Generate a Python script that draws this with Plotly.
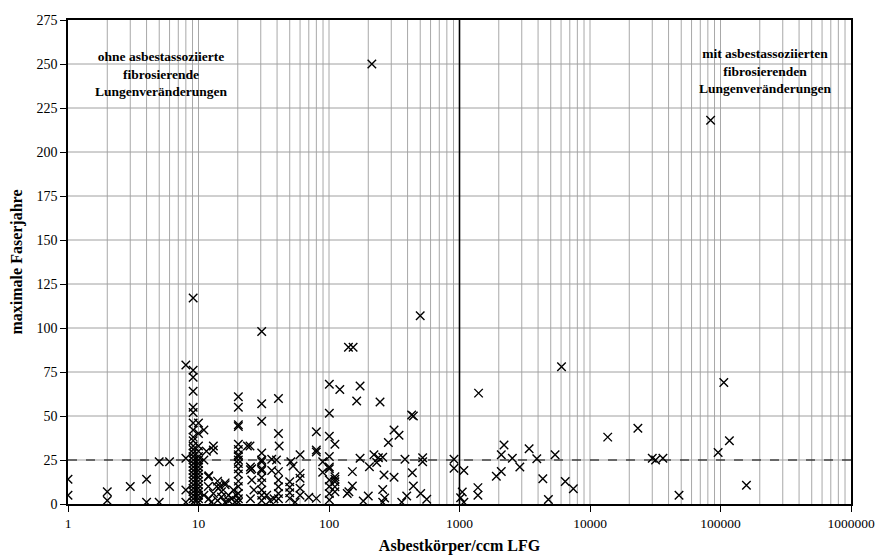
import plotly.graph_objects as go

# --- data ---
x_low = [1, 1, 2, 2, 3, 4, 4, 5, 5, 6, 6, 8, 8, 8, 8]
y_low = [14, 5, 7, 2, 10, 14, 1, 1, 24, 24, 10, 79, 26, 8, 1]

x_col9 = [9.1] * 27
y_col9 = [117, 76, 72, 64, 55, 52, 46, 42, 38, 36, 33, 31, 29, 27, 25, 23, 21,
          19, 17, 15, 13, 11, 9, 7, 5, 3, 1]

x_col10 = [10] * 18
y_col10 = [46, 40, 33, 30, 27, 25, 23, 21, 19, 17, 15, 13, 11, 9, 7, 5, 3, 1]

x_teens = [11, 11.5, 13, 13, 11, 12, 11.9, 14.6, 16, 11.9, 13.8, 16, 18.5, 11,
           12, 13, 14, 15, 16, 17, 18, 19, 12.5, 15, 17, 14, 19.5]
y_teens = [42, 30, 33, 30.7, 25, 16, 15.5, 10, 12, 10, 10, 11, 8, 5,
           3, 6, 2, 4, 1, 5, 3, 1, 1, 7, 2, 13, 5]

x_col20 = [20.2] * 17
y_col20 = [61, 55, 45, 44, 34, 31, 28, 27, 25, 23, 20, 17, 13, 10, 6, 3, 1]

x_col30 = [30.5] * 13
y_col30 = [98, 57, 47, 29, 25, 24, 20, 19, 15, 12, 8, 5, 2]

x_mid = [23.7, 24.8, 25.6, 25.6, 25, 25, 25, 26.6, 33.3, 35.3, 37.9, 41,
         36.4, 39.6, 36.4, 41, 41, 41, 41, 41, 41, 41.5,
         51, 53, 60, 60, 60, 60, 60, 50, 50, 50, 50, 70, 80, 80, 80, 80,
         89.5, 89.5, 55]
y_mid = [33, 33, 20, 13.6, 3, 21, 19.5, 8, 5, 2, 3, 3,
         25.4, 25, 19, 18.4, 13.6, 9.8, 6, 60, 40, 33,
         24, 21.6, 28, 17.4, 14.6, 9, 5, 12.7, 9.5, 6.4, 3.2, 3.8, 3.2, 41,
         30.7, 29.5, 24, 18, 1]

x_col100 = [100.6] * 10 + [111] * 6
y_col100 = [68, 51.5, 38.5, 27, 21, 20, 13.6, 10, 6, 2.3,
            34, 15.5, 14, 12.7, 9.8, 7]

x_hundreds = [121, 141, 153, 173, 163, 246, 430, 443, 315, 344, 285, 173, 221,
              239, 258, 204, 232, 382, 522, 522, 435, 264, 315, 151, 151, 142,
              138, 443, 258, 267, 258, 361, 183, 200, 394, 504, 561, 908, 908,
              213, 500]
y_hundreds = [65, 89, 89, 67, 58.5, 58, 50.6, 50, 42, 39, 35, 26, 28,
              26.3, 26.5, 21.2, 23.6, 25.4, 26.3, 24, 17.8, 16.5, 15.2, 18.4,
              10.2, 7, 6, 10.2, 8.3, 3.4, 1, 1, 1.7, 4.5, 4.5, 6, 2.7, 25.4,
              20.3, 250, 107]

x_high = [1080, 1050, 1020, 1080, 1400, 1384, 1384, 2193, 2090, 2540, 3415,
          3910, 2900, 5400, 1915, 2090, 4350, 4800, 6460, 7450, 6050, 13670,
          23270, 30000, 31800, 36200, 48100, 84000, 95900, 106000, 117000,
          158000]
y_high = [19, 6.8, 3.5, 1, 63, 9.3, 5, 33.5, 28, 26, 31.4,
          25.7, 21, 28, 15.8, 18.5, 14.3, 2.5, 12.8, 8.6, 78, 38,
          43, 26, 25, 26, 5, 218, 29.3, 69, 36, 10.7]

x_tickvals = [1, 10, 100, 1000, 10000, 100000, 1000000]
x_ticktext = ["1", "10", "100", "1000", "10000", "100000", "1000000"]
y_tickvals = list(range(0, 276, 25))
threshold_y = 25
threshold_x = 1000

xs = x_low + x_col9 + x_col10 + x_teens + x_col20 + x_col30 + x_mid + x_col100 + x_hundreds + x_high
ys = y_low + y_col9 + y_col10 + y_teens + y_col20 + y_col30 + y_mid + y_col100 + y_hundreds + y_high

FONT = "Liberation Serif"

fig = go.Figure()
fig.add_trace(go.Scatter(
    x=xs, y=ys, mode="markers",
    marker=dict(symbol="x-thin", size=8.5, color="black",
                line=dict(color="black", width=1.4)),
    showlegend=False, hoverinfo="x+y",
))

shapes = []
# vertical log grid lines
for k in range(0, 6):
    for m in range(1, 10):
        v = m * 10 ** k
        if v == 1:
            continue
        shapes.append(dict(type="line", xref="x", yref="paper", x0=v, x1=v,
                           y0=0, y1=1, layer="below",
                           line=dict(color="#a8a8a8", width=1)))
# horizontal grid lines
for yv in y_tickvals[1:-1]:
    shapes.append(dict(type="line", xref="paper", yref="y", x0=0, x1=1,
                       y0=yv, y1=yv, layer="below",
                       line=dict(color="#a0a0a0", width=1)))
# threshold lines
shapes.append(dict(type="line", xref="paper", yref="y", x0=0, x1=1,
                   y0=threshold_y, y1=threshold_y,
                   line=dict(color="black", width=1, dash="dash")))
shapes.append(dict(type="line", xref="x", yref="paper", x0=threshold_x, x1=threshold_x,
                   y0=0, y1=1, line=dict(color="black", width=1.6)))

fig.update_layout(
    width=877, height=560,
    margin=dict(l=68, r=26, t=20, b=56),
    paper_bgcolor="white", plot_bgcolor="white",
    font=dict(family=FONT, color="black", size=14),
    shapes=shapes,
    xaxis=dict(type="log", range=[0, 6], tickvals=x_tickvals, ticktext=x_ticktext,
               automargin=False, ticklabeloverflow="allow",
               showgrid=False, zeroline=False, showline=True, linecolor="black",
               linewidth=1.5, mirror=True, ticks="outside", ticklen=6,
               tickcolor="black", tickfont=dict(family=FONT, size=13.5),
               title=dict(text="<b>Asbestkörper/ccm LFG</b>", standoff=10,
                          font=dict(family=FONT, size=16))),
    yaxis=dict(range=[0, 275], tickvals=y_tickvals, showgrid=False,
               automargin=False,
               zeroline=False, showline=True, linecolor="black", linewidth=1.5,
               mirror=True, ticks="outside", ticklen=6, tickcolor="black",
               tickfont=dict(family=FONT, size=14),
               title=dict(text="<b>maximale Faserjahre</b>", standoff=10,
                          font=dict(family=FONT, size=16))),
    annotations=[
        dict(text="<b>ohne asbestassoziierte<br>fibrosierende<br>Lungenveränderungen</b>",
             xref="paper", yref="paper", x=(161 - 68) / 783, y=(504 - 74) / 484,
             showarrow=False, align="center", xanchor="center", yanchor="middle",
             font=dict(family=FONT, size=13.5)),
        dict(text="<b>mit asbestassoziierten<br>fibrosierenden<br>Lungenveränderungen</b>",
             xref="paper", yref="paper", x=(765 - 68) / 783, y=(504 - 71) / 484,
             showarrow=False, align="center", xanchor="center", yanchor="middle",
             font=dict(family=FONT, size=13.5)),
    ],
)

fig.write_html(
    "out.html",
    config={"displayModeBar": False},
    post_script="document.body.style.margin='0';document.body.style.overflow='hidden';",
)
